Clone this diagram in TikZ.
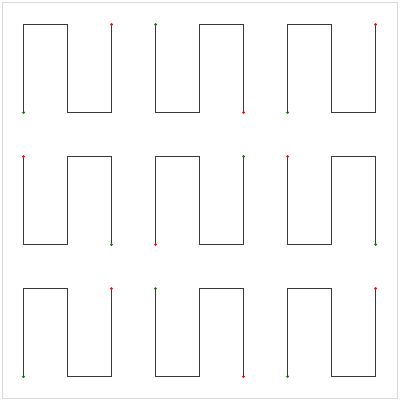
\documentclass[tikz,border=0pt]{standalone}
\usepackage{tikz}
\definecolor{wavecol}{HTML}{3A3A3A}
\definecolor{framecol}{HTML}{D8D8D8}
\definecolor{startcol}{HTML}{008000}
\definecolor{endcol}{HTML}{FF0000}
\tikzset{
  wave/.style={draw=wavecol, line width=1pt, line join=miter},
  frameline/.style={draw=framecol, line width=1pt},
  dot/.style={circle, inner sep=0pt, minimum size=3pt, fill=#1},
}
% shape A: BL -> TL -> TM -> BM -> BR -> TR
\newcommand{\waveA}[4]{%
  \draw[wave] (#1,#2+88) -- (#1,#2) -- (#1+44,#2) -- (#1+44,#2+88) -- (#1+88,#2+88) -- (#1+88,#2);
  \node[dot=#3] at (#1,#2+88) {};
  \node[dot=#4] at (#1+88,#2) {};
}
% shape B: TL -> BL -> BM -> TM -> TR -> BR
\newcommand{\waveB}[4]{%
  \draw[wave] (#1,#2) -- (#1,#2+88) -- (#1+44,#2+88) -- (#1+44,#2) -- (#1+88,#2) -- (#1+88,#2+88);
  \node[dot=#3] at (#1,#2) {};
  \node[dot=#4] at (#1+88,#2+88) {};
}
\begin{document}
\begin{tikzpicture}[x=1pt, y=-1pt]
\useasboundingbox (0,0) rectangle (400,401);
\draw[frameline] (2.5,2.5) rectangle (397.5,398);
% row 1
\waveA{23.5}{24.5}{startcol}{endcol}
\waveB{155.5}{24.5}{startcol}{endcol}
\waveA{287.5}{24.5}{startcol}{endcol}
% row 2
\waveB{23.5}{156.5}{endcol}{startcol}
\waveA{155.5}{156.5}{endcol}{startcol}
\waveB{287.5}{156.5}{endcol}{startcol}
% row 3
\waveA{23.5}{288.5}{startcol}{endcol}
\waveB{155.5}{288.5}{startcol}{endcol}
\waveA{287.5}{288.5}{startcol}{endcol}
\end{tikzpicture}
\end{document}
